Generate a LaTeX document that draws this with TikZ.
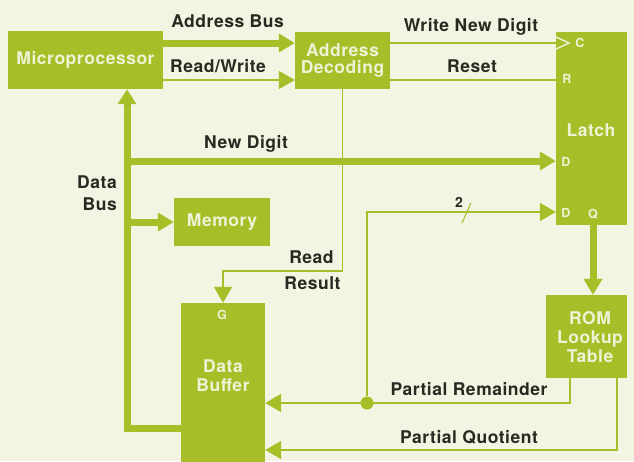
\documentclass[tikz,border=0pt]{standalone}
\usepackage{fontspec}
\setmainfont{TeX Gyre Heros}[LetterSpace=3]
\usetikzlibrary{arrows.meta}
\definecolor{grn}{RGB}{168,190,40}
\definecolor{bgc}{RGB}{244,244,226}
\definecolor{lite}{RGB}{240,242,214}
\definecolor{ink}{RGB}{40,42,34}
\begin{document}
\begin{tikzpicture}[x=1pt,y=-1pt,
  box/.style={fill=grn,draw=none,inner sep=0pt,text=lite,font=\fontsize{17.5}{20}\selectfont\bfseries,align=center},
  lbl/.style={text=ink,font=\fontsize{17.5}{20}\selectfont\bfseries,inner sep=0pt,anchor=base,align=center},
  pin/.style={text=lite,font=\fontsize{12.5}{14}\selectfont\bfseries,inner sep=0pt},
  tip/.tip={Triangle[length=16pt,width=18pt]},
  thk/.style={draw=grn,line width=7pt,line join=miter},
  thn/.style={draw=grn,line width=1.7pt,line join=miter},
  dot/.style={circle,fill=grn,minimum size=13pt,inner sep=0pt}]
\useasboundingbox (0,0) rectangle (634,461);
\fill[bgc] (0,0) rectangle (634,461);

% boxes
\node[box,minimum width=155pt,minimum height=58pt] (mp) at (85.5,60) {Microprocessor};
\node[box,minimum width=95pt,minimum height=57pt] (ad) at (342.5,60.5) {Address\\[-3pt]Decoding};
\node[box,minimum width=71pt,minimum height=193pt] (latch) at (591.5,128.5) {};
\node[box] (latchl) at (591,130) {Latch};
\node[box,minimum width=96pt,minimum height=48pt] (mem) at (222,222) {Memory};
\node[box,minimum width=84pt,minimum height=160pt] (buf) at (223,383) {};
\node[box] (bufl) at (223,376) {Data\\[-1pt]Buffer};
\node[box,minimum width=81pt,minimum height=83pt] (rom) at (586.5,336.5) {};
\node[box] (roml) at (590,337) {ROM\\[-1pt]Lookup\\[-1pt]Table};

% pins
\node[pin] (pc) at (580,43) {C};
\node[pin] (pr) at (567,79) {R};
\node[pin] (pd1) at (566,162) {D};
\node[pin] (pd2) at (566,212.5) {D};
\node[pin] (pq) at (593,214) {Q};
\node[pin] (pg) at (222,315) {G};

% helper coordinates
\coordinate (yab) at (0,43);
\coordinate (yrw) at (0,80);
\coordinate (xdb) at (127,0);
\coordinate (ydb) at (0,428);
\coordinate (yrr) at (0,271);
\coordinate (ypr) at (0,403);
\coordinate (xpr) at (570,0);
\coordinate (ypq) at (0,450);
\coordinate (xpq) at (617,0);
\coordinate (yd2) at (0,212);
\coordinate (ynd2) at (0,161);

% top connections
\draw[thk,-tip] (mp.east |- yab) -- (ad.west |- yab);
\draw[thn,-tip] (mp.east |- yrw) -- (ad.west |- yrw);
\draw[thn] (ad.east |- yab) -- (latch.west |- yab);
\draw[draw=lite,line width=1.4pt] (556,37) -- (569,43) -- (556,49);
\draw[thn] (ad.east |- yrw) -- (latch.west |- yrw);

% data bus
\draw[thk,{Triangle[length=15pt,width=18pt]}-] (mp.south -| xdb) -- (xdb |- ydb) -- (buf.west |- ydb);
\draw[thk,-tip] (xdb |- ynd2) -- (latch.west |- ynd2);
\draw[thk,-tip] (xdb |- mem.west) -- (mem.west);

% read result
\draw[thn,-tip] (ad.south) -- (ad.south |- yrr) -- (buf.north |- yrr) -- (buf.north);

% latch to rom
\draw[thk,-tip] (latch.south -| pq) -- (rom.north -| pq);

% partial remainder
\draw[thn,-tip] (rom.south -| xpr) -- (xpr |- ypr) -- (buf.east |- ypr);
\node[dot] (j) at (367,403) {};
\draw[thn,-tip] (j) -- (j |- yd2) -- (latch.west |- yd2);
\coordinate (s1) at (462,223);
\coordinate (s2) at (471,203);
\draw[thn,line width=1pt] (s1) -- (s2);
\node[text=ink,font=\fontsize{14}{15}\selectfont\bfseries,inner sep=0pt] (two) at (459,202.5) {2};

% partial quotient
\draw[thn,-tip] (rom.south -| xpq) -- (xpq |- ypq) -- (buf.east |- ypq);

% labels
\node[lbl] (lab) at (227.5,27) {Address Bus};
\node[lbl] (lrw) at (218,72) {Read/Write};
\node[lbl] (lwnd) at (471,31) {Write New Digit};
\node[lbl] (lres) at (472,72) {Reset};
\node[lbl] (lnd) at (246,148) {New Digit};
\node[lbl,anchor=base east] (ld1) at (117,188) {Data};
\node[lbl,anchor=base east] (ld2) at (117,210) {Bus};
\node[lbl] (lrd) at (311.5,263) {Read};
\node[lbl] (lrs) at (312.5,289) {Result};
\node[lbl] (lpr) at (469,395) {Partial Remainder};
\node[lbl] (lpq) at (469,443) {Partial Quotient};
\end{tikzpicture}
\end{document}
